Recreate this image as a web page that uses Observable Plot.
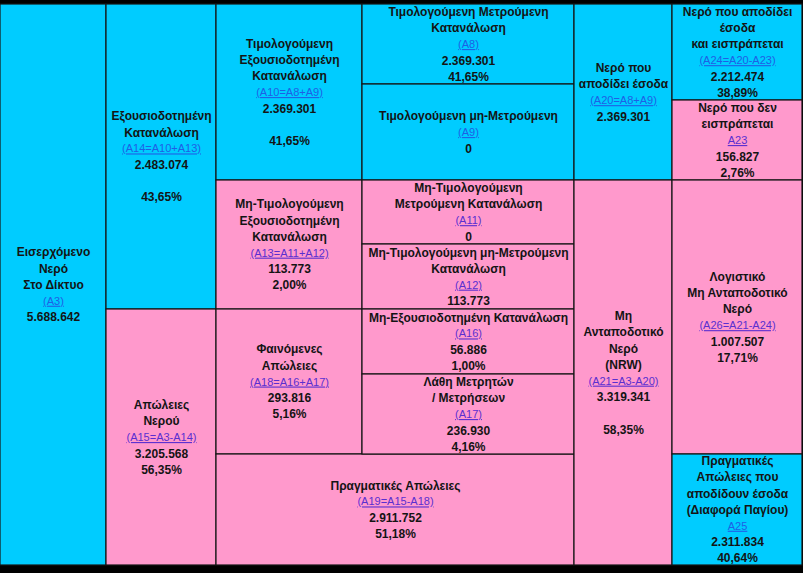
<!DOCTYPE html>
<html><head><meta charset="utf-8">
<script src="https://cdn.jsdelivr.net/npm/d3@7"></script>
<script src="https://cdn.jsdelivr.net/npm/@observablehq/plot@0.6"></script>
<style>html,body{margin:0;padding:0;background:#000;} #chart svg{display:block}</style>
</head><body><div id="chart"></div>
<script>
// ---- data ----
const codes = ["A3","A14","A15","A10","A13","A18","A19","A8","A9","A11","A12","A16","A17","A20","A21","A24","A23","A26","A25"];
const titles = [
  "Εισερχόμενο\nΝερό\nΣτο Δίκτυο",
  "Εξουσιοδοτημένη\nΚατανάλωση",
  "Απώλειες\nΝερού",
  "Τιμολογούμενη\nΕξουσιοδοτημένη\nΚατανάλωση",
  "Μη-Τιμολογούμενη\nΕξουσιοδοτημένη\nΚατανάλωση",
  "Φαινόμενες\nΑπώλειες",
  "Πραγματικές Απώλειες",
  "Τιμολογούμενη Μετρούμενη\nΚατανάλωση",
  "Τιμολογούμενη μη-Μετρούμενη",
  "Μη-Τιμολογούμενη\nΜετρούμενη Κατανάλωση",
  "Μη-Τιμολογούμενη μη-Μετρούμενη\nΚατανάλωση",
  "Μη-Εξουσιοδοτημένη Κατανάλωση",
  "Λάθη Μετρητών\n/ Μετρήσεων",
  "Νερό που\nαποδίδει έσοδα",
  "Μη\nΑνταποδοτικό\nΝερό\n(NRW)",
  "Νερό που αποδίδει\nέσοδα\nκαι εισπράπεται",
  "Νερό που δεν\nεισπράπεται",
  "Λογιστικό\nΜη Ανταποδοτικό\nΝερό",
  "Πραγματικές\nΑπώλειες που\nαποδίδουν έσοδα\n(Διαφορά Παγίου)"
];
const formulas = ["(A3)","(A14=A10+A13)","(A15=A3-A14)","(A10=A8+A9)","(A13=A11+A12)","(A18=A16+A17)","(A19=A15-A18)","(A8)","(A9)","(A11)","(A12)","(A16)","(A17)","(A20=A8+A9)","(A21=A3-A20)","(A24=A20-A23)","A23","(A26=A21-A24)","A25"];
const volumes = [5688642,2483074,3205568,2369301,113773,293816,2911752,2369301,0,0,113773,56886,236930,2369301,3319341,2212474,156827,1007507,2311834];
const percents = [null,43.65,56.35,41.65,2.00,5.16,51.18,41.65,null,null,null,1.00,4.16,null,58.35,38.89,2.76,17.71,40.64];
const groups = ["revenue","revenue","loss","revenue","loss","loss","loss","revenue","revenue","loss","loss","loss","loss","revenue","loss","revenue","loss","loss","revenue"];

// ---- layout (grid spans: col1, col2, row1, row2) ----
const colEdges = [0,106,216,362,574,672,802];
const rowEdges = [4,84,100,180,244,309,374,454,565];
const spans = [[0,1,0,8],[1,2,0,5],[1,2,5,8],[2,3,0,3],[2,3,3,5],[2,3,5,7],[2,4,7,8],[3,4,0,1],[3,4,1,3],[3,4,3,4],[3,4,4,5],[3,4,5,6],[3,4,6,7],[4,5,0,3],[4,5,3,8],[5,6,0,2],[5,6,2,3],[5,6,3,7],[5,6,7,8]];
const gapBeforePct = new Set(["A14","A10","A21"]);
const LH = 16.2;

const col = i => colEdges[i], row = i => rowEdges[i];
const gr = d3.formatLocale({decimal: ",", thousands: ".", grouping: [3], currency: ["", "€"]});
const fmtV = gr.format(",d"), fmtP = v => gr.format(".2f")(v) + "%";

const cells = codes.map((c, i) => ({code: c, x1: col(spans[i][0]), x2: col(spans[i][1]), y1: row(spans[i][2]), y2: row(spans[i][3]), group: groups[i]}));
const lines = [];
cells.forEach((cell, i) => {
  const L = titles[i].split("\n").map(t => ({text: t, kind: "title"}));
  L.push({text: formulas[i], kind: "link"});
  L.push({text: fmtV(volumes[i]), kind: "value"});
  if (percents[i] != null) {
    if (gapBeforePct.has(cell.code)) L.push({text: "", kind: "blank"});
    L.push({text: fmtP(percents[i]), kind: "value"});
  }
  const cx = (cell.x1 + cell.x2) / 2, cy = (cell.y1 + cell.y2) / 2;
  L.forEach((l, j) => lines.push({...l, group: cell.group, x: cx, y: cy + (j - (L.length - 1) / 2) * LH}));
});

const font = "'Liberation Sans', Arial, sans-serif";
const plot = Plot.plot({
  width: 803, height: 573,
  margin: 0,
  x: {domain: [0, 803], range: [0, 803], axis: null},
  y: {domain: [0, 573], range: [0, 573], axis: null},
  color: {domain: ["revenue", "loss"], range: ["#00CCFF", "#FF99CC"]},
  style: {background: "#000", fontFamily: font},
  marks: [
    Plot.rect(cells, {x1: "x1", x2: "x2", y1: "y1", y2: "y2", fill: "group", stroke: "#151515", strokeWidth: 1.2, inset: 0}),
    Plot.text(lines.filter(d => d.kind === "title" || d.kind === "value"), {x: "x", y: "y", text: "text", fontWeight: "bold", fontSize: 12, fill: "#141414"}),
    Plot.text(lines.filter(d => d.kind === "link" && d.group === "revenue"), {x: "x", y: "y", text: "text", fontSize: 11, fill: "#1f5fe6"}),
    Plot.text(lines.filter(d => d.kind === "link" && d.group === "loss"), {x: "x", y: "y", text: "text", fontSize: 11, fill: "#5a2fd0"})
  ]
});
const linkSet = new Set(formulas);
d3.select(plot).selectAll("text").filter(function() { return linkSet.has(this.textContent); })
  .style("text-decoration", "underline");
document.getElementById("chart").appendChild(plot);
</script>
</body></html>
